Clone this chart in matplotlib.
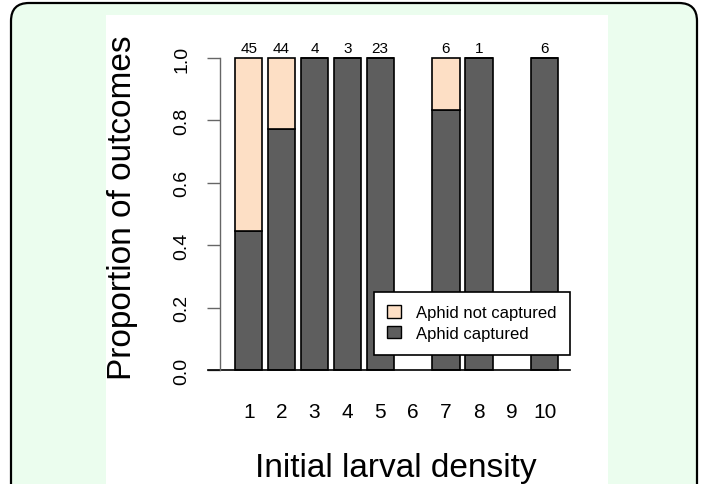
import numpy as np
import matplotlib
matplotlib.use('Agg')
import matplotlib.pyplot as plt
from matplotlib.patches import FancyBboxPatch, Rectangle, Patch
from matplotlib.transforms import IdentityTransform

# данные
density = ['1', '2', '3', '4', '5', '6', '7', '8', '9', '10']
n_trials = [45, 44, 4, 3, 23, 0, 6, 1, 0, 6]
prop_captured = [0.444, 0.773, 1.0, 1.0, 1.0, 0.0, 0.833, 1.0, 0.0, 1.0]
prop_not_captured = [0.556, 0.227, 0.0, 0.0, 0.0, 0.0, 0.167, 0.0, 0.0, 0.0]

col_not = '#FDDFC5'
col_capt = '#5E5E5E'
green = '#EBFDEE'

plt.rcParams['font.family'] = ['Liberation Sans', 'DejaVu Sans']

fig = plt.figure(figsize=(7.02, 4.85), dpi=100, facecolor='white')

# рамка с закруглёнными углами и белая подложка
frame = FancyBboxPatch((11, -30), 686, 511, boxstyle='round,pad=0,rounding_size=18',
                       transform=IdentityTransform(), facecolor=green,
                       edgecolor='black', linewidth=1.6, zorder=-3)
fig.patches.append(frame)
panel = Rectangle((106, 0), 502, 469, transform=IdentityTransform(),
                  facecolor='white', edgecolor='none', zorder=-2)
fig.patches.append(panel)

ax = fig.add_axes([220 / 702, (485 - 371) / 485, 380 / 702, 312 / 485])
ax.set_facecolor('none')

x = 0.7 + 1.2 * np.arange(len(density))
has_data = np.array(n_trials) > 0
capt = np.array(prop_captured)
notc = np.array(prop_not_captured)

ax.bar(x[has_data], capt[has_data], width=1, color=col_capt,
       edgecolor='black', linewidth=1.2, clip_on=False)
ax.bar(x[has_data], notc[has_data], bottom=capt[has_data], width=1,
       color=col_not, edgecolor='black', linewidth=1.2, clip_on=False)

for xi, n in zip(x, n_trials):
    if n > 0:
        ax.text(xi, 1.019, str(n), ha='center', va='baseline', fontsize=11)

ax.set_xlim(-0.347, 13.52)
ax.set_ylim(0, 1)
ax.plot([-0.785, 12.43], [0, 0], color='black', linewidth=1.2, clip_on=False)

for s in ['top', 'right', 'bottom']:
    ax.spines[s].set_visible(False)
ax.spines['left'].set_color('#666666')
ax.spines['left'].set_linewidth(1.0)

ax.set_yticks([0, 0.2, 0.4, 0.6, 0.8, 1.0])
ax.set_yticklabels(['0.0', '0.2', '0.4', '0.6', '0.8', '1.0'], rotation=90,
                   va='center', fontsize=14)
ax.tick_params(axis='y', length=9.4, width=1.0, color='#666666', pad=12)
ax.set_xticks(x)
ax.set_xticklabels(density, fontsize=15)
ax.tick_params(axis='x', length=0, pad=23)

fig.text(396 / 702, 1 - 477 / 485, 'Initial larval density', ha='center',
         va='baseline', fontsize=24)
fig.text(123 / 702, 1 - 208 / 485, 'Proportion of outcomes', ha='center',
         va='center', rotation=90, fontsize=24)

handles = [Patch(facecolor=col_not, edgecolor='black', label='Aphid not captured'),
           Patch(facecolor=col_capt, edgecolor='black', label='Aphid captured')]
leg = ax.legend(handles=handles, loc='upper left',
                bbox_to_anchor=(374 / 702, 1 - 293 / 485),
                bbox_transform=fig.transFigure, borderaxespad=0, fontsize=12,
                fancybox=False, edgecolor='black', framealpha=1,
                handlelength=0.8, handleheight=0.75, handletextpad=0.9,
                borderpad=0.8, labelspacing=0.35)
leg.get_frame().set_linewidth(1.2)

fig.savefig('out.png', dpi=100)
